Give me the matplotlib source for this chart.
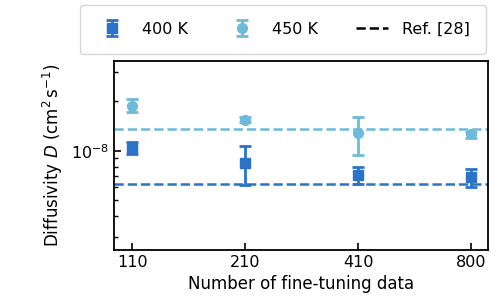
import numpy as np
import matplotlib
matplotlib.use('Agg')
import matplotlib.pyplot as plt
import matplotlib.ticker as mtick

# data
n_data = ['110', '210', '410', '800']

d400 = [1.034e-8, 8.42e-9, 7.12e-9, 6.95e-9]
d400_lo = [0.951e-8, 6.2e-9, 6.31e-9, 6.03e-9]
d400_hi = [1.125e-8, 1.072e-8, 7.97e-9, 7.75e-9]

d450 = [1.875e-8, 1.54e-8, 1.274e-8, 1.257e-8]
d450_lo = [1.71e-8, 1.486e-8, 9.37e-9, 1.20e-8]
d450_hi = [2.05e-8, 1.60e-8, 1.60e-8, 1.30e-8]

ref400 = 6.28e-9
ref450 = 1.36e-8

c400 = '#2a73c7'
c450 = '#6cbbdb'

fig = plt.figure(figsize=(4.98, 3.08), dpi=100)
ax = fig.add_axes([114 / 498, 58 / 308, 374 / 498, 189 / 308])

x = np.arange(len(n_data))
err400 = [np.array(d400) - np.array(d400_lo), np.array(d400_hi) - np.array(d400)]
err450 = [np.array(d450) - np.array(d450_lo), np.array(d450_hi) - np.array(d450)]

h1 = ax.errorbar(x, d400, yerr=err400, fmt='s', color=c400, ms=7,
                 capsize=4, elinewidth=2, capthick=2, label='400 K')
h2 = ax.errorbar(x, d450, yerr=err450, fmt='o', color=c450, ms=7,
                 capsize=4, elinewidth=2, capthick=2, label='450 K')
ax.axhline(ref400, color=c400, ls='--', lw=1.8)
ax.axhline(ref450, color=c450, ls='--', lw=1.8)
h3, = ax.plot([], [], color='black', ls='--', lw=1.8, label='Ref. [28]')

ax.set_yscale('log')
ax.set_ylim(2.5e-9, 3.5e-8)
ax.set_xlim(-0.16, 3.15)
ax.set_xticks(x)
ax.set_xticklabels(n_data)
ax.yaxis.set_minor_formatter(mtick.NullFormatter())
ax.tick_params(which='both', direction='in', labelsize=11.5)
ax.tick_params(which='major', length=5, width=1.2)
ax.tick_params(which='minor', length=3, width=1)
for s in ax.spines.values():
    s.set_linewidth(1.3)

ax.set_xlabel('Number of fine-tuning data', fontsize=12)
ax.set_ylabel(r'Diffusivity $D$ (cm$^2\,$s$^{-1}$)', fontsize=12)

fig.legend(handles=[h1, h2, h3], loc='upper center', ncol=3,
           bbox_to_anchor=(283 / 498, 1 - 5 / 308), borderaxespad=0,
           fontsize=11.5, frameon=True, borderpad=1.05, columnspacing=2.4,
           handletextpad=0.85, handlelength=2.0)

plt.savefig('out.png', dpi=100)
